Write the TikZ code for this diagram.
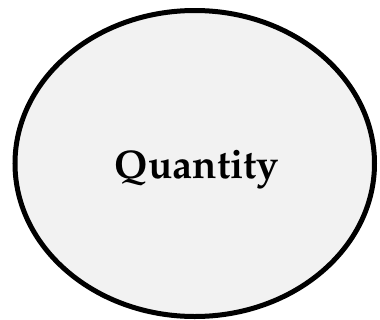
\documentclass[tikz,border=0pt]{standalone}
\usepackage[T1]{fontenc}
\usepackage{mathpazo}
\usetikzlibrary{shapes.geometric}
\definecolor{ellfill}{HTML}{F2F2F2}
\tikzset{
  bubble/.style={ellipse, draw=black, line width=5bp, fill=ellfill,
    minimum width=359.5bp, minimum height=306bp, inner sep=0pt},
  wordtext/.style={font=\fontsize{40bp}{48bp}\selectfont\bfseries, text=black, inner sep=0pt}
}
\begin{document}
\begin{tikzpicture}[x=1bp,y=-1bp]
\useasboundingbox (0,0) rectangle (380,320);
\node[bubble] (e) at (194.75,163.5) {};
\node[wordtext, anchor=base] (q) at (197,178) {Quantity};
\end{tikzpicture}
\end{document}
